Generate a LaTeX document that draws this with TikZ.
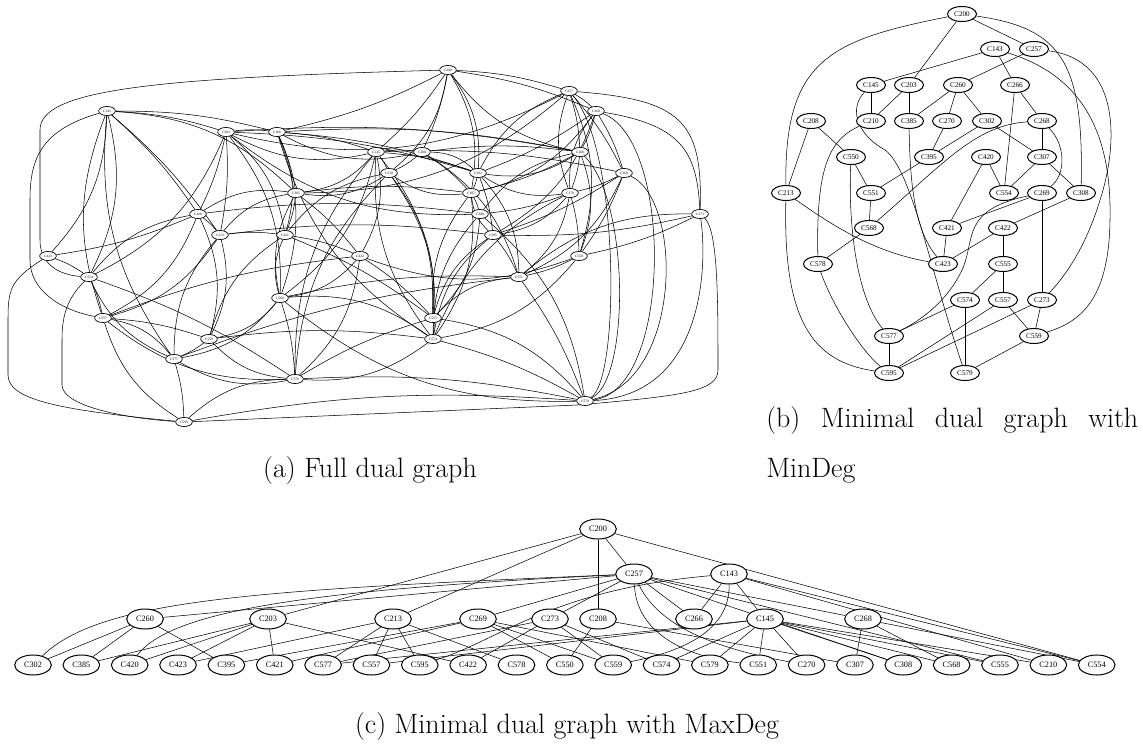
\documentclass[tikz,border=0pt]{standalone}
\usepackage{fontspec}
\newfontfamily\dotfont{Liberation Serif}
\usetikzlibrary{shapes.geometric,backgrounds}
\begin{document}
\begin{tikzpicture}[x=0.75pt,y=-0.75pt,
  aedge/.style={line width=0.6pt},
  edge/.style={line width=0.75pt},
  anode/.style={ellipse,draw,fill=white,line width=0.5pt,inner sep=0pt,
    minimum width=12.5pt,minimum height=6.8pt,font=\dotfont\fontsize{2.6}{3}\selectfont},
  bnode/.style={ellipse,draw,fill=white,line width=0.75pt,inner sep=0pt,
    minimum width=21.75pt,minimum height=11.25pt,font=\dotfont\fontsize{5.4}{6}\selectfont},
  cnode/.style={ellipse,draw,fill=white,line width=0.75pt,inner sep=0pt,
    minimum width=27.5pt,minimum height=15pt,font=\dotfont\fontsize{6.2}{7}\selectfont},
  capt/.style={font=\fontsize{21}{25}\selectfont,inner sep=0pt,anchor=base}]
\useasboundingbox (0,0) rectangle (1143,751);

% ---------------- (a) full dual graph ----------------
\foreach \n/\x/\y in {C200/448/70, C257/569/91, C260/596/111, C143/107/111,
  C203/226/132, C266/277/132, C145/376/152, C208/422/152, C268/580/152,
  C210/389/173, C302/478/173, C269/624/173, C385/296/193, C307/471/193,
  C270/570/193, C420/198/214, C308/480/214, C273/700/214, C213/220/235,
  C421/285/235, C395/493/235, C423/48/256, C422/360/256, C550/579/256,
  C554/89/277, C551/519/277, C568/280/298, C557/103/318, C555/433/318,
  C559/209/339, C574/433/339, C577/174/359, C578/295/379, C579/585/401,
  C595/184/422}
  \node[anode] (a\n) at (\x,\y) {\n};

\begin{scope}[on background layer, aedge]
\foreach \u/\v in {C200/C266, C200/C145, C200/C208, C200/C257, C200/C260,
  C143/C203, C143/C213, C143/C420, C143/C266, C203/C266, C203/C420, C203/C213,
  C203/C268, C203/C302, C266/C385, C266/C145, C266/C302, C266/C268, C145/C208,
  C145/C210, C145/C302, C145/C269, C208/C210, C208/C268, C208/C307, C257/C260,
  C257/C268, C257/C269, C260/C268, C260/C269, C260/C302, C268/C270, C268/C307,
  C269/C270, C269/C550, C269/C395, C302/C307, C302/C395, C307/C308, C270/C550,
  C270/C308, C385/C421, C385/C422, C385/C307, C420/C213, C420/C423, C420/C308,
  C213/C421, C213/C395, C421/C422, C421/C555, C422/C555, C395/C551, C423/C554,
  C554/C557, C554/C578, C550/C551, C551/C579, C555/C574, C574/C579, C578/C579,
  C595/C579, C577/C595, C559/C577, C557/C559, C568/C578, C568/C551, C559/C574,
  C577/C551, C578/C555, C557/C422, C273/C550, C273/C395}
  \draw (a\u) to[bend left=7] (a\v);
\foreach \u/\v in {C200/C210, C200/C302, C200/C307, C257/C385, C257/C203,
  C257/C550, C260/C307, C260/C395, C143/C423, C143/C554, C143/C385, C203/C421,
  C203/C554, C203/C568, C266/C421, C266/C568, C145/C385, C145/C422, C145/C568,
  C145/C555, C208/C302, C208/C551, C210/C385, C210/C555, C210/C574, C268/C302,
  C268/C550, C302/C551, C269/C551, C307/C574, C270/C395, C270/C551, C308/C555,
  C308/C579, C420/C557, C420/C559, C213/C557, C213/C559, C422/C568, C422/C578,
  C550/C574, C568/C559, C568/C574, C568/C577, C557/C577, C574/C578, C555/C579}
  \draw (a\u) to[bend left=20] (a\v);
\foreach \u/\v in {C200/C268, C257/C270, C257/C302, C260/C270, C143/C557,
  C143/C577, C203/C145, C203/C308, C266/C208, C266/C574, C145/C574, C145/C578,
  C210/C307, C210/C421, C210/C578, C268/C308, C302/C270, C385/C420, C385/C213,
  C385/C568, C307/C395, C307/C555, C270/C574, C420/C554, C308/C574, C273/C551,
  C213/C577, C421/C568, C421/C559, C395/C574, C395/C555, C422/C550, C554/C577,
  C551/C555, C568/C579, C559/C578, C557/C578, C557/C595, C577/C578, C578/C595}
  \draw (a\u) to[bend right=20] (a\v);
% long routes round the outside
\draw (aC200) .. controls (150,78) and (40,90) .. (40,130) -- (40,240)
  .. controls (40,265) and (60,275) .. (aC554);
\draw (aC143) .. controls (40,130) and (30,160) .. (30,200) -- (30,260)
  .. controls (30,290) and (60,310) .. (aC557);
\draw (aC423) .. controls (10,280) and (8,290) .. (8,320) -- (8,375)
  .. controls (8,400) and (60,410) .. (aC595);
\draw (aC554) .. controls (65,300) and (62,320) .. (62,340) -- (62,385)
  .. controls (62,405) and (120,418) .. (aC595);
\draw (aC257) .. controls (680,100) and (703,120) .. (aC273);
\draw (aC260) .. controls (680,125) and (697,150) .. (aC273);
\draw (aC269) .. controls (683,200) and (683,380) .. (aC579);
\draw (aC260) .. controls (673,140) and (673,390) .. (aC579);
\draw (aC273) .. controls (707,260) and (707,395) .. (aC579);
\draw (aC268) .. controls (630,200) and (630,380) .. (aC579);
\draw (aC257) .. controls (620,150) and (620,380) .. (aC579);
\draw (aC273) .. controls (718,230) and (718,300) .. (718,370)
  .. controls (718,392) and (680,396) .. (577,405) -- (aC595);
\end{scope}

% ---------------- (b) MinDeg ----------------
\foreach \n/\x/\y in {C200/962/14, C143/995/49, C257/1034/49, C145/871/85,
  C203/909/85, C260/958/85, C266/1015/85, C208/811/121, C210/871/121,
  C385/909/121, C270/947/121, C302/987/121, C268/1042/121, C550/851/157,
  C395/929/157, C420/986/157, C307/1042/157, C213/786/193, C551/871/193,
  C554/1004/193, C269/1042/193, C308/1081/193, C568/869/228, C421/947/228,
  C422/1003/228, C578/818/264, C423/943/264, C555/1003/264, C574/965/300,
  C557/1003/300, C273/1042/300, C577/889/336, C559/1034/336, C595/889/373,
  C579/965/373}
  \node[bnode] (b\n) at (\x,\y) {\n};

\begin{scope}[on background layer, edge]
\foreach \u/\v in {C200/C203, C200/C257, C143/C145, C143/C266, C257/C260,
  C145/C210, C203/C210, C203/C385, C260/C385, C260/C270, C260/C302,
  C266/C268, C266/C554, C208/C213, C208/C550, C270/C395, C302/C395,
  C302/C307, C268/C307, C550/C551, C395/C551, C420/C554, C420/C421,
  C307/C554, C307/C308, C551/C568, C568/C578, C269/C421, C269/C273,
  C308/C422, C421/C423, C422/C423, C422/C555, C555/C574, C555/C557,
  C574/C577, C574/C579, C557/C595, C557/C559, C273/C559, C273/C595,
  C577/C595, C559/C579}
  \draw (b\u) -- (b\v);
\draw (bC200) .. controls (830,40) and (784,60) .. (bC213);
\draw (bC200) .. controls (1060,28) and (1084,60) .. (bC308);
\draw (bC143) .. controls (1080,75) and (1112,130) .. (1110,220)
  .. controls (1109,300) and (1080,322) .. (bC559);
\draw (bC257) .. controls (1122,60) and (1118,145) .. (1100,200)
  .. controls (1085,250) and (1062,280) .. (bC273);
\draw (bC145) .. controls (848,110) and (858,135) .. (885,150)
  .. controls (912,170) and (930,270) .. (bC579);
\draw (bC210) .. controls (828,140) and (816,170) .. (bC578);
\draw (bC385) .. controls (910,190) and (916,232) .. (bC423);
\draw (bC268) .. controls (1066,145) and (1066,175) .. (bC269);
\draw (bC268) .. controls (975,125) and (942,165) .. (bC568);
\draw (bC550) .. controls (848,230) and (858,300) .. (bC577);
\draw (bC213) .. controls (825,220) and (870,252) .. (bC423);
\draw (bC213) .. controls (783,320) and (812,362) .. (bC595);
\draw (bC269) .. controls (960,210) and (976,240) .. (962,270)
  .. controls (948,300) and (922,320) .. (bC577);
\draw (bC578) .. controls (832,305) and (862,352) .. (bC595);
\end{scope}

% ---------------- (c) MaxDeg ----------------
\node[cnode] (cC200) at (598,529) {C200};
\node[cnode] (cC257) at (634,574) {C257};
\node[cnode] (cC143) at (729,574) {C143};
\foreach \n/\x in {C260/145, C203/268, C213/393, C269/478, C273/550,
  C208/598, C266/694, C145/765, C268/863}
  \node[cnode] (c\n) at (\x,619) {\n};
\foreach \n [count=\k from 0] in {C302, C385, C420, C423, C395, C421, C577,
  C557, C595, C422, C578, C550, C559, C574, C579, C551, C270, C307, C308,
  C568, C555, C210, C554}
  \node[cnode] (c\n) at (33+48.35*\k,665) {\n};

\begin{scope}[on background layer, edge]
\foreach \u/\v in {C200/C203, C200/C213, C200/C208, C200/C257, C200/C554,
  C257/C260, C257/C269, C257/C273, C257/C266, C257/C268, C257/C308, C257/C555,
  C143/C266, C143/C145, C143/C210, C143/C554,
  C260/C302, C260/C385, C260/C395,
  C203/C385, C203/C420, C203/C423, C203/C421, C203/C422,
  C213/C423, C213/C577, C213/C557, C213/C595, C213/C578,
  C269/C395, C269/C421, C269/C550, C269/C559, C269/C579,
  C273/C577, C273/C422, C273/C559, C273/C574,
  C208/C550, C208/C307,
  C145/C574, C145/C579, C145/C551, C145/C270, C145/C308, C145/C568,
  C145/C555, C145/C557, C145/C577, C145/C210,
  C268/C307, C268/C568, C268/C554}
  \draw (c\u) -- (c\v);
\draw (cC257) .. controls (250,590) and (100,600) .. (cC302);
\draw (cC257) .. controls (300,590) and (170,612) .. (cC420);
\draw (cC257) .. controls (636,630) and (680,656) .. (cC551);
\draw (cC257) .. controls (660,630) and (725,650) .. (cC270);
\draw (cC143) .. controls (550,590) and (500,640) .. (cC595);
\draw (cC143) .. controls (730,632) and (680,652) .. (cC559);
\end{scope}

% ---------------- captions ----------------
\node[capt] (capa) at (370,477) {(a) Full dual graph};
\node[capt,anchor=base west] (capb1) at (766,427)
  {\makebox[279pt][s]{(b) Minimal dual graph with}};
\node[capt,anchor=base west] (capb2) at (766,477) {MinDeg};
\node[capt] (capc) at (567,733) {(c) Minimal dual graph with MaxDeg};
\end{tikzpicture}
\end{document}
